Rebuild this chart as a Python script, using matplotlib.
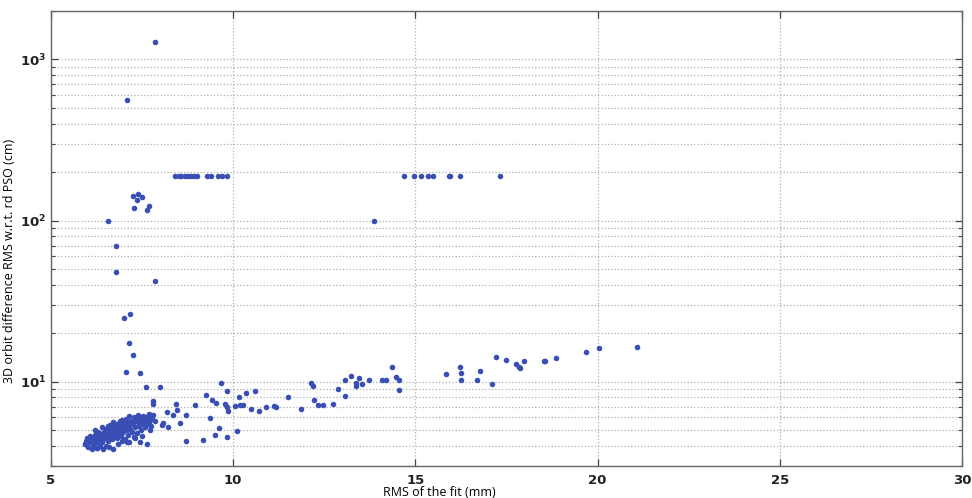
import numpy as np
import matplotlib
matplotlib.use("Agg")
import matplotlib.pyplot as plt
from matplotlib.ticker import LogLocator, FixedLocator

# outliers and upper points
top_x = [7.86, 7.08]
top_y = [1290, 560]

# saturated row near 188 cm
row_x = [8.41, 8.50, 8.58, 8.68, 8.76, 8.85, 8.93, 9.01, 9.29, 9.40, 9.59, 9.70, 9.84,
         14.70, 14.95, 15.14, 15.34, 15.49, 15.92, 15.96, 16.21, 17.32]
row_y = [188, 188, 188, 188, 188, 188, 188, 188, 188, 188, 188, 188, 188,
         188, 188, 188, 188, 188, 188, 188, 188, 188]

# vertical spray above the cluster
spray_x = [13.85, 7.26, 7.38, 7.49, 7.35, 7.29, 7.68, 7.64, 6.55, 6.78, 6.79, 7.86,
           7.01, 7.17, 7.15, 7.24, 7.05, 7.45]
spray_y = [100, 143, 146, 140, 135, 119, 124, 117, 99, 70, 47.8, 42,
           24.8, 26.2, 17.4, 14.7, 11.5, 11.3]

# dense cluster at small RMS
clus_x = [5.92, 5.95, 5.98, 6.02, 6.05, 6.08, 6.10, 6.12, 6.15, 6.18, 6.20, 6.22, 6.25,
          6.28, 6.30, 6.33, 6.35, 6.38, 6.40, 6.42,
          6.45, 6.47, 6.50, 6.52, 6.55, 6.55, 6.58, 6.60, 6.60, 6.62, 6.65, 6.65, 6.68,
          6.70, 6.70, 6.72, 6.75, 6.75, 6.78, 6.80, 6.80, 6.82, 6.85, 6.85, 6.88, 6.90,
          6.90, 6.92, 6.95, 6.95, 6.98, 7.00, 7.00,
          7.02, 7.05, 7.05, 7.08, 7.10, 7.12, 7.15, 7.15, 7.18, 7.20, 7.22, 7.25, 7.28,
          7.30, 7.32, 7.35, 7.38, 7.40, 7.42, 7.45, 7.48, 7.50, 7.52, 7.55, 7.58, 7.60,
          7.62, 7.65, 7.68, 7.70, 7.72, 7.75, 7.78, 7.80, 7.85,
          6.30, 6.50, 6.60, 6.85, 6.95, 7.30, 7.50, 6.20, 6.40, 6.27, 6.71, 6.39, 7.08,
          7.15, 7.29, 7.45, 7.63, 7.72, 6.07, 5.93]
clus_y = [4.10, 4.30, 4.50, 3.95, 4.20, 4.60, 4.35, 3.85, 4.05, 4.40, 4.70, 4.15, 3.90,
          4.50, 4.25, 4.80, 4.00, 4.60, 4.30, 3.80,
          4.90, 4.50, 5.10, 4.70, 4.30, 5.30, 4.90, 5.00, 4.60, 5.40, 4.80, 5.20, 4.40,
          5.00, 5.60, 4.70, 5.30, 4.90, 5.10, 4.50, 5.50, 5.00, 5.20, 4.80, 5.70, 5.00,
          5.40, 4.60, 5.20, 5.80, 4.90, 5.50, 5.10,
          4.40, 5.30, 5.90, 5.00, 5.60, 4.70, 5.40, 6.10, 5.10, 5.70, 4.90, 5.50, 6.00,
          5.20, 5.80, 4.80, 5.60, 6.20, 5.30, 5.90, 5.00, 5.50, 6.10, 5.70, 5.20, 6.00,
          5.40, 5.80, 6.30, 5.60, 6.00, 5.30, 5.90, 6.20, 5.70,
          4.90, 4.00, 3.95, 4.10, 4.30, 4.50, 4.60, 5.00, 5.20, 3.86, 3.82, 4.24, 4.24,
          4.24, 4.56, 4.24, 4.10, 5.00, 4.56, 4.10]

# rising trend to the right
trend_x = [7.61, 7.98, 7.81, 7.81, 8.43, 8.18, 8.47, 8.36, 8.71, 8.94, 9.25, 9.41, 9.53,
           9.67, 9.83, 9.78, 9.83, 9.85, 10.05, 10.17, 10.19, 10.28, 10.35, 10.59, 10.49,
           10.70, 10.91, 11.11, 11.18, 11.50, 11.86, 12.13, 12.19, 12.21, 12.32, 12.46,
           12.74, 12.88, 9.36, 9.62, 9.51, 9.83, 10.10, 9.17, 8.70, 8.22, 8.54, 8.04, 8.06,
           13.08, 13.08, 13.23, 13.37, 13.37, 13.46, 13.54, 13.72, 14.08, 14.20, 14.36,
           14.48, 14.54, 14.54, 15.85, 16.22, 16.24, 16.26, 16.69, 16.76, 17.09, 17.20,
           17.49, 17.77, 17.84, 17.88, 17.99, 18.52, 18.57, 18.87, 19.67, 20.05, 21.09]
trend_y = [9.27, 9.27, 7.60, 7.25, 7.25, 6.51, 6.72, 6.20, 6.26, 7.14, 8.23, 7.67, 7.42,
           9.82, 8.77, 7.31, 6.98, 6.56, 7.04, 8.05, 7.14, 7.20, 8.55, 8.71, 6.81,
           6.59, 6.98, 7.04, 6.98, 8.05, 6.75, 9.82, 9.40, 7.67, 7.20, 7.14,
           7.31, 8.96, 5.96, 5.13, 4.66, 4.56, 4.94, 4.34, 4.28, 5.22, 5.58, 5.37, 5.58,
           8.11, 10.3, 10.9, 9.82, 9.40, 10.5, 9.62, 10.3, 10.2, 10.2, 12.3,
           10.7, 10.2, 8.83, 11.2, 12.4, 11.3, 10.3, 10.3, 11.6, 9.62, 14.2,
           13.7, 12.9, 12.3, 12.1, 13.5, 13.4, 13.4, 14.0, 15.4, 16.1, 16.5]

x_all = top_x + row_x + spray_x + clus_x + trend_x
y_all = top_y + row_y + spray_y + clus_y + trend_y

fig = plt.figure(figsize=(9.72, 4.98), dpi=100)
ax = fig.add_axes([0.0525, 0.0643, 0.9372, 0.9137])

ax.set_yscale("log")
ax.set_xlim(5, 30)
ax.set_ylim(3, 2000)

ax.grid(True, which="major", axis="x", linestyle=":", color="#b0b0b0", linewidth=0.9)
ax.grid(True, which="both", axis="y", linestyle=":", color="#b0b0b0", linewidth=0.9)
ax.set_axisbelow(True)

ax.plot(x_all, y_all, linestyle="none", marker="o", markersize=4.0,
        color="#3a4fb6", markeredgewidth=0)

ax.xaxis.set_major_locator(FixedLocator([5, 10, 15, 20, 25, 30]))
ax.yaxis.set_major_locator(LogLocator(base=10))
ax.yaxis.set_minor_locator(LogLocator(base=10, subs=np.arange(2, 10)))
ax.tick_params(which="both", direction="in", top=True, right=True, colors="#444444",
               labelcolor="#222222", labelsize=9.5)
ax.tick_params(which="major", length=5, width=0.9)
ax.tick_params(which="minor", length=3, width=0.8)
ax.tick_params(axis="x", pad=6)
for sp in ax.spines.values():
    sp.set_color("#666666")
    sp.set_linewidth(1.0)

for lab in ax.get_xticklabels() + ax.get_yticklabels():
    lab.set_fontweight("bold")
plt.rcParams["mathtext.default"] = "bf"

ax.set_xlabel("RMS of the fit (mm)", fontsize=9, fontfamily="Open Sans")
ax.xaxis.set_label_coords(0.426, -0.045)
ax.set_ylabel("3D orbit difference RMS w.r.t. rd PSO (cm)", fontsize=9, fontfamily="Open Sans")
ax.yaxis.set_label_coords(-0.038, 0.45)

fig.savefig("out.png", dpi=100)
